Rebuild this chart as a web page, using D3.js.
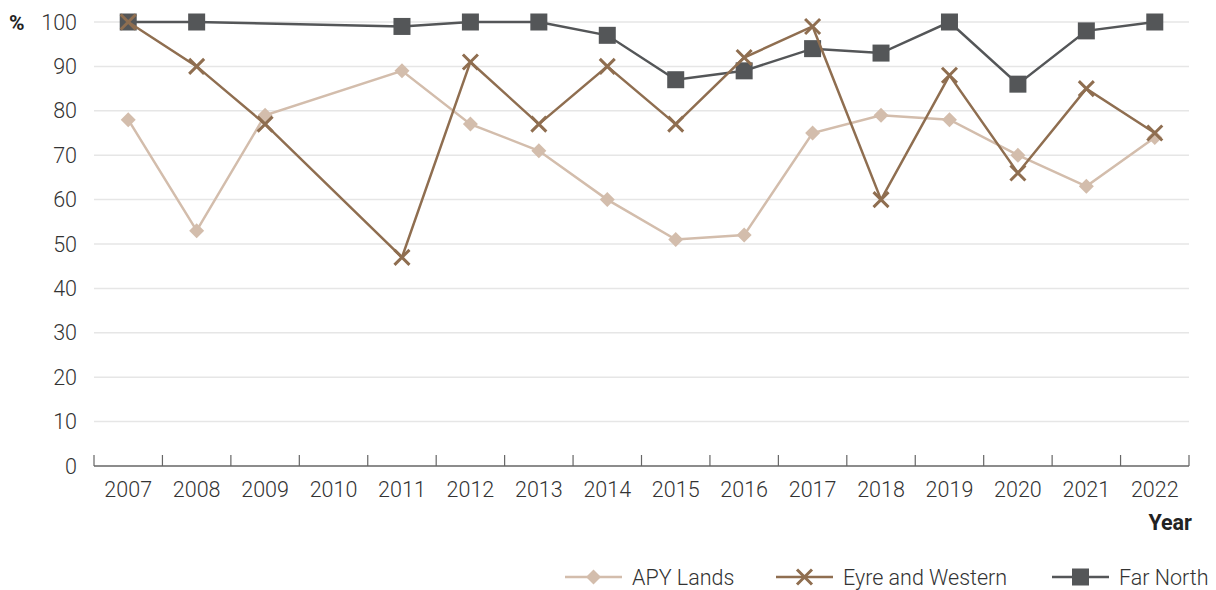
<!DOCTYPE html>
<html>
<head>
<meta charset="utf-8">
<script src="https://cdn.jsdelivr.net/npm/d3@7"></script>
<style>
  body { margin: 0; background: #fff; }
  svg text { font-family: Roboto, "Liberation Sans", sans-serif; }
</style>
</head>
<body>
<svg id="chart" width="1216" height="590"></svg>
<script>
// years on the x axis
const years = ["2007","2008","2009","2010","2011","2012","2013","2014","2015","2016","2017","2018","2019","2020","2021","2022"];
// series values (null = no data that year)
const apyLands      = [78, 53, 79, null, 89, 77, 71, 60, 51, 52, 75, 79, 78, 70, 63, 74];
const eyreWestern   = [100, 90, 77, null, 47, 91, 77, 90, 77, 92, 99, 60, 88, 66, 85, 75];
const farNorth      = [100, 100, null, null, 99, 100, 100, 97, 87, 89, 94, 93, 100, 86, 98, 100];
const yTicks = [0, 10, 20, 30, 40, 50, 60, 70, 80, 90, 100];

const series = [
  { name: "APY Lands", values: apyLands, color: "#d3bdac", marker: "diamond" },
  { name: "Far North", values: farNorth, color: "#545658", marker: "square" },
  { name: "Eyre and Western", values: eyreWestern, color: "#8f6e50", marker: "cross" }
];
const legendOrder = ["APY Lands", "Eyre and Western", "Far North"];

const svg = d3.select("#chart");
const plotLeft = 94, plotRight = 1189, plotTop = 22, plotBottom = 466;
const labelSize = 21.5;

const x = d3.scaleBand().domain(years).range([plotLeft, plotRight]).padding(0);
const y = d3.scaleLinear().domain([0, 100]).range([plotBottom, plotTop]);

// gridlines
svg.append("g").selectAll("line")
  .data(yTicks.filter(d => d > 0))
  .join("line")
  .attr("x1", plotLeft).attr("x2", plotRight)
  .attr("y1", d => y(d)).attr("y2", d => y(d))
  .attr("stroke", "#e6e6e6").attr("stroke-width", 1.5);

// y labels
svg.append("g").selectAll("text")
  .data(yTicks)
  .join("text")
  .attr("x", 77).attr("y", d => y(d))
  .attr("dy", "0.35em")
  .attr("text-anchor", "end")
  .attr("font-size", labelSize).attr("font-weight", 300)
  .attr("fill", "#333")
  .text(d => d);

svg.append("text")
  .attr("x", 9).attr("y", y(100)).attr("dy", "0.38em")
  .attr("font-size", 21).attr("font-weight", "bold").attr("fill", "#222")
  .text("%");

// x axis line + boundary ticks
const axisG = svg.append("g");
axisG.append("line")
  .attr("x1", plotLeft).attr("x2", plotRight)
  .attr("y1", plotBottom).attr("y2", plotBottom)
  .attr("stroke", "#666").attr("stroke-width", 1.5);
const bounds = years.map(d => x(d)).concat([x.range()[1]]);
axisG.selectAll("line.tick")
  .data(bounds)
  .join("line").attr("class", "tick")
  .attr("x1", d => d).attr("x2", d => d)
  .attr("y1", plotBottom).attr("y2", plotBottom - 11)
  .attr("stroke", "#666").attr("stroke-width", 1.2);
axisG.selectAll("text")
  .data(years)
  .join("text")
  .attr("x", d => x(d) + x.bandwidth() / 2)
  .attr("y", 496.5)
  .attr("text-anchor", "middle")
  .attr("font-size", labelSize).attr("font-weight", 300)
  .attr("fill", "#333")
  .text(d => d);

svg.append("text")
  .attr("x", 1192).attr("y", 529.5)
  .attr("text-anchor", "end")
  .attr("font-size", 21.5).attr("font-weight", "bold").attr("fill", "#222")
  .text("Year");

function drawMarker(g, type, color) {
  if (type === "square") {
    g.append("rect").attr("x", -8.5).attr("y", -8.5).attr("width", 17).attr("height", 17).attr("fill", color);
  } else if (type === "diamond") {
    g.append("path").attr("d", "M0,-7.5L7.5,0L0,7.5L-7.5,0Z").attr("fill", color);
  } else {
    g.append("path").attr("d", "M-7.5,-7.5L7.5,7.5M-7.5,7.5L7.5,-7.5")
      .attr("stroke", color).attr("stroke-width", 3).attr("fill", "none");
  }
}

const line = d3.line().x(d => d.x).y(d => d.y);

series.forEach(s => {
  const pts = years.map((yr, i) => ({ yr, v: s.values[i] }))
    .filter(d => d.v !== null)
    .map(d => ({ x: x(d.yr) + x.bandwidth() / 2, y: y(d.v) }));
  const g = svg.append("g");
  g.append("path").datum(pts)
    .attr("d", line)
    .attr("fill", "none").attr("stroke", s.color).attr("stroke-width", 2.5);
  g.selectAll("g.m").data(pts).join("g").attr("class", "m")
    .attr("transform", d => `translate(${d.x},${d.y})`)
    .each(function() { drawMarker(d3.select(this), s.marker, s.color); });
});

// legend
const legendX = { "APY Lands": 565, "Eyre and Western": 776, "Far North": 1052 };
legendOrder.forEach(name => {
  const s = series.find(d => d.name === name);
  const lx = legendX[name], ly = 577;
  const g = svg.append("g");
  g.append("line").attr("x1", lx).attr("x2", lx + 57).attr("y1", ly).attr("y2", ly)
    .attr("stroke", s.color).attr("stroke-width", 2.5);
  const m = g.append("g").attr("transform", `translate(${lx + 28.5},${ly})`);
  drawMarker(m, s.marker, s.color);
  g.append("text").attr("x", lx + 67).attr("y", ly).attr("dy", "0.35em")
    .attr("font-size", labelSize).attr("font-weight", 300).attr("fill", "#333")
    .text(name);
});
</script>
</body>
</html>
